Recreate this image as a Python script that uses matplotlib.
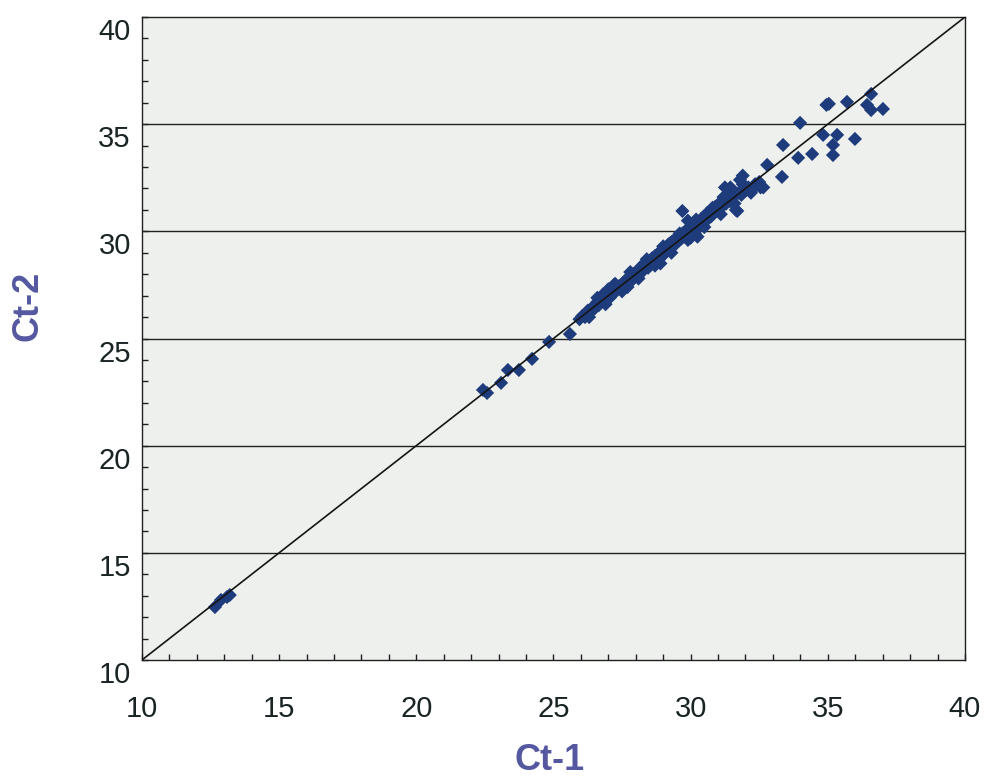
import matplotlib.pyplot as plt
import matplotlib.transforms as mtransforms
from matplotlib.ticker import MultipleLocator

plt.rcParams['font.family'] = ['Liberation Sans', 'DejaVu Sans']

# low and mid range points
low_x = [12.66, 12.88, 13.10, 13.20]
low_y = [12.47, 12.80, 12.94, 13.03]

mid_x = [22.43, 22.58, 23.09, 23.34, 23.74, 24.22, 24.84, 25.60]
mid_y = [22.60, 22.46, 22.93, 23.53, 23.53, 24.05, 24.84, 25.21]

# dense cluster
clu_x = [25.95, 26.05, 26.15, 26.25, 26.35, 26.45, 26.50, 26.60, 26.65, 26.75,
         26.80, 26.85, 26.95, 27.00, 27.05, 27.15, 27.20, 27.25, 27.30, 27.40,
         27.45, 27.55, 27.60, 27.65, 27.70, 27.80, 27.85, 27.90, 27.95, 28.05,
         28.10, 28.15, 28.20, 28.25, 28.30, 28.35, 28.40, 28.45, 28.50, 28.55,
         28.60, 28.65, 28.70, 28.75, 28.80, 28.85, 28.90, 28.95, 29.00, 29.05,
         29.10, 29.15, 29.20, 29.25, 29.30, 29.35, 29.40, 29.45, 29.50, 29.55,
         29.60, 29.65, 29.70, 29.70, 29.75, 29.80, 29.85, 29.90, 29.90, 29.95,
         30.00, 30.05, 30.10, 30.15, 30.20, 30.25, 30.30, 30.35, 30.40, 30.45,
         30.50, 30.55, 30.60, 30.65, 30.70, 30.75, 30.80, 30.85, 30.90, 30.95,
         31.00, 31.05, 31.10, 31.15, 31.20, 31.25, 31.30, 31.35, 31.45, 31.45,
         31.55, 31.65, 31.70, 31.75, 31.80, 31.85, 31.90, 32.00, 32.10, 32.25,
         32.35, 32.55, 32.65,
         26.30, 26.60, 26.90, 27.20, 27.50, 27.80, 28.10, 28.40, 28.70, 29.00,
         29.30, 29.60, 29.90, 30.20, 30.50, 30.80, 31.10, 31.40, 31.60, 31.90,
         32.20, 32.50, 27.00, 28.90, 30.00]
clu_y = [25.90, 26.05, 26.00, 26.30, 26.25, 26.50, 26.40, 26.70, 26.55, 26.80,
         27.05, 26.75, 26.95, 27.10, 26.90, 27.25, 27.10, 27.55, 27.30, 27.45,
         27.30, 27.60, 27.45, 27.75, 27.40, 27.85, 27.70, 28.00, 27.85, 28.10,
         27.95, 28.30, 28.15, 28.40, 28.20, 28.55, 28.35, 28.30, 28.60, 28.45,
         28.75, 28.55, 28.85, 28.60, 28.95, 28.70, 29.05, 28.85, 29.10, 28.95,
         29.25, 29.10, 29.40, 29.20, 29.50, 29.30, 29.60, 29.40, 29.70, 29.55,
         29.80, 29.65, 30.95, 29.90, 29.75, 30.00, 29.85, 30.50, 30.10, 29.95,
         30.20, 30.05, 30.30, 29.90, 30.40, 29.75, 30.45, 30.25, 30.60, 30.40,
         30.70, 30.50, 30.85, 30.60, 30.95, 30.70, 31.05, 30.85, 31.15, 30.95,
         31.25, 31.05, 31.35, 31.15, 31.60, 32.05, 31.30, 31.50, 31.40, 32.05,
         31.60, 31.00, 30.95, 31.80, 32.40, 31.70, 32.60, 31.90, 32.05, 31.95,
         32.20, 32.05, 32.05,
         26.00, 26.90, 26.60, 27.50, 27.20, 28.10, 27.80, 28.70, 28.40, 29.30,
         29.00, 29.90, 29.60, 30.55, 30.20, 31.10, 30.80, 31.70, 31.30, 32.20,
         31.80, 32.30, 27.30, 28.50, 29.70]

# sparse upper range
top_x = [32.79, 33.33, 33.37, 33.92, 34.43, 33.99, 34.83, 35.34, 35.99, 35.19,
         35.19, 35.04, 34.95, 35.70, 36.58, 36.43, 36.58, 37.01]
top_y = [33.10, 32.54, 34.03, 33.43, 33.61, 35.06, 34.50, 34.50, 34.31, 34.03,
         33.56, 35.95, 35.90, 36.04, 36.41, 35.90, 35.66, 35.71]

xs = low_x + mid_x + clu_x + top_x
ys = low_y + mid_y + clu_y + top_y

fig = plt.figure(figsize=(9.9, 7.77), dpi=100)
ax = fig.add_axes([0.1434, 0.1506, 0.8313, 0.8275])
ax.set_facecolor('#edf0ed')

for g in [15, 20, 25, 30, 35]:
    ax.axhline(g, color='#202020', lw=1.0, zorder=1)

ax.plot([10, 40], [10, 40], color='#151515', lw=1.2, zorder=4)
ax.scatter(xs, ys, marker='D', s=52, color='#1e3c7c', edgecolors='none', zorder=3)

ax.set_xlim(10, 40)
ax.set_ylim(10, 40)
ax.xaxis.set_major_locator(MultipleLocator(5))
ax.yaxis.set_major_locator(MultipleLocator(5))
ax.xaxis.set_minor_locator(MultipleLocator(1))
ax.yaxis.set_minor_locator(MultipleLocator(1))
ax.tick_params(which='both', direction='in', length=4, width=1, color='#202020')
ax.tick_params(axis='x', which='major', pad=25, labelsize=21, labelcolor='#1a2424')
ax.tick_params(axis='y', which='major', pad=8, labelsize=21, labelcolor='#1a2424')

shift = mtransforms.ScaledTranslation(0, -12 / 100, fig.dpi_scale_trans)
for lab in ax.get_yticklabels():
    lab.set_transform(lab.get_transform() + shift)

for sp in ax.spines.values():
    sp.set_color('#202020')
    sp.set_linewidth(1.0)

fig.text(550 / 990, 1 - 760 / 777, 'Ct-1', ha='center', va='center',
         fontsize=26, fontweight='bold', color='#5558a0')
fig.text(28 / 990, 1 - 306 / 777, 'Ct-2', ha='center', va='center', rotation=90,
         fontsize=26, fontweight='bold', color='#5558a0')

fig.savefig('out.png', dpi=100, facecolor='white')
